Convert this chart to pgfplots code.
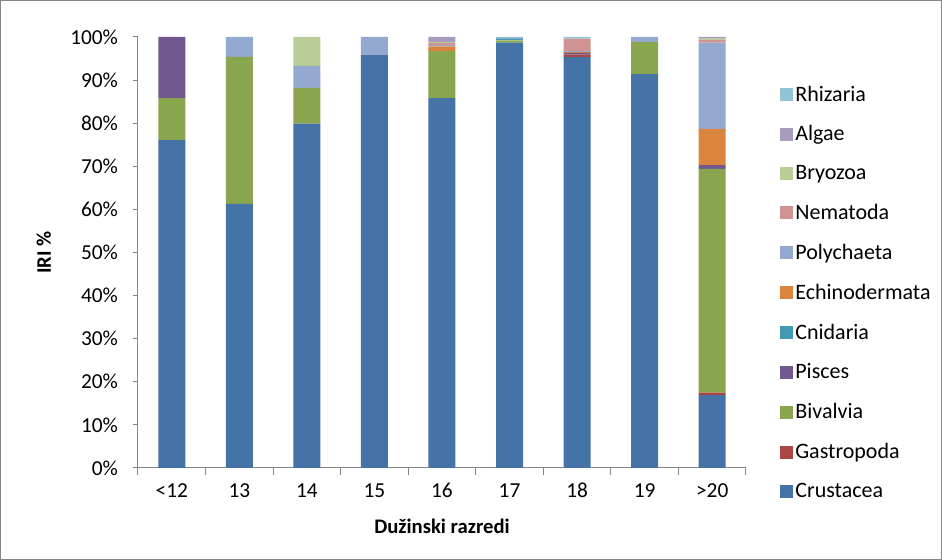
\documentclass[border=0pt]{standalone}
\usepackage{pgfplots}
\pgfplotsset{compat=1.18}
\usepackage{pgfplotstable}
\usepackage{fontspec}
\setmainfont{Carlito}
\definecolor{cCru}{HTML}{4572A7}
\definecolor{cGas}{HTML}{AA4643}
\definecolor{cBiv}{HTML}{89A54E}
\definecolor{cPis}{HTML}{71588F}
\definecolor{cCni}{HTML}{4198AF}
\definecolor{cEch}{HTML}{DB843D}
\definecolor{cPol}{HTML}{93A9CF}
\definecolor{cNem}{HTML}{D19392}
\definecolor{cBry}{HTML}{B9CD96}
\definecolor{cAlg}{HTML}{A99BBD}
\definecolor{cRhi}{HTML}{92C3D5}
\definecolor{axgray}{HTML}{868686}
\pgfplotstableread{
x Cru Gas Biv Pis Cni Ech Pol Nem Bry Alg Rhi
0 76.1 0   9.7  14.2 0   0   0    0   0   0   0
1 61.3 0   34.1 0    0   0   4.6  0   0   0   0
2 79.9 0   8.3  0    0   0   5.1  0   6.7 0   0
3 95.8 0   0    0    0   0   4.2  0   0   0   0
4 85.8 0   10.9 0    0   1.1 0.3  0.5 0.2 1.2 0
5 98.7 0   0.5  0    0.3 0   0.3  0   0   0   0.2
6 95.3 0.6 0    0.4  0   0.2 0.2  2.9 0   0   0.4
7 91.4 0   7.4  0    0   0   1.2  0   0   0   0
8 16.9 0.6 51.9 0.9  0   8.4 20.0 0.6 0.3 0.4 0
}\datatable
\begin{document}
\begin{tikzpicture}
\useasboundingbox (0,0) rectangle (706.5pt,420pt);
\draw[axgray, line width=0.75pt] (0.375pt,0.375pt) rectangle (706.125pt,419.625pt);
\begin{axis}[
  at={(103.5pt,69pt)}, anchor=south west,
  scale only axis, width=456pt, height=323.25pt,
  ybar stacked, bar width=20.25pt,
  xmin=-0.5, xmax=8.5, ymin=0, ymax=100,
  axis x line*=bottom, axis y line*=left,
  axis line style={axgray, line width=0.75pt, -},
  xtick={0,...,8},
  xticklabels={<12,13,14,15,16,17,18,19,>20},
  major x tick style={draw=none},
  minor xtick={-0.5,0.5,...,8.5},
  minor x tick style={axgray, line width=0.75pt},
  minor tick length=5pt,
  ytick={0,10,...,100},
  y tick style={axgray, line width=0.75pt},
  major tick length=4pt,
  tick align=outside,
  yticklabel={\pgfmathprintnumber{\tick}\%},
  /pgf/number format/assume math mode=true,
  ticklabel style={font=\fontsize{16}{19}\selectfont, text=black},
  xticklabel style={yshift=-4pt},
  yticklabel style={xshift=-7.5pt},
  xlabel={\textbf{Dužinski razredi}},
  ylabel={\textbf{IRI \%}},
  label style={font=\fontsize{15.5}{18}\selectfont},
  xlabel style={yshift=-9pt},
  ylabel style={yshift=7.5pt},
  reverse legend,
  legend style={at={(1.055,0.8935)}, anchor=north west, draw=none, fill=none,
    font=\fontsize{16.5}{19.5}\selectfont, row sep=12.95pt, inner sep=0pt,
    nodes={inner sep=2pt}},
  legend cell align=left,
  legend image code/.code={\fill[#1] (0pt,-4.875pt) rectangle (9.75pt,4.875pt);},
  every axis plot/.append style={draw=none},
]
\addplot[fill=cCru] table[x=x,y=Cru]{\datatable};
\addplot[fill=cGas] table[x=x,y=Gas]{\datatable};
\addplot[fill=cBiv] table[x=x,y=Biv]{\datatable};
\addplot[fill=cPis] table[x=x,y=Pis]{\datatable};
\addplot[fill=cCni] table[x=x,y=Cni]{\datatable};
\addplot[fill=cEch] table[x=x,y=Ech]{\datatable};
\addplot[fill=cPol] table[x=x,y=Pol]{\datatable};
\addplot[fill=cNem] table[x=x,y=Nem]{\datatable};
\addplot[fill=cBry] table[x=x,y=Bry]{\datatable};
\addplot[fill=cAlg] table[x=x,y=Alg]{\datatable};
\addplot[fill=cRhi] table[x=x,y=Rhi]{\datatable};
\legend{Crustacea,Gastropoda,Bivalvia,Pisces,Cnidaria,Echinodermata,Polychaeta,Nematoda,Bryozoa,Algae,Rhizaria}
\end{axis}
\end{tikzpicture}
\end{document}
